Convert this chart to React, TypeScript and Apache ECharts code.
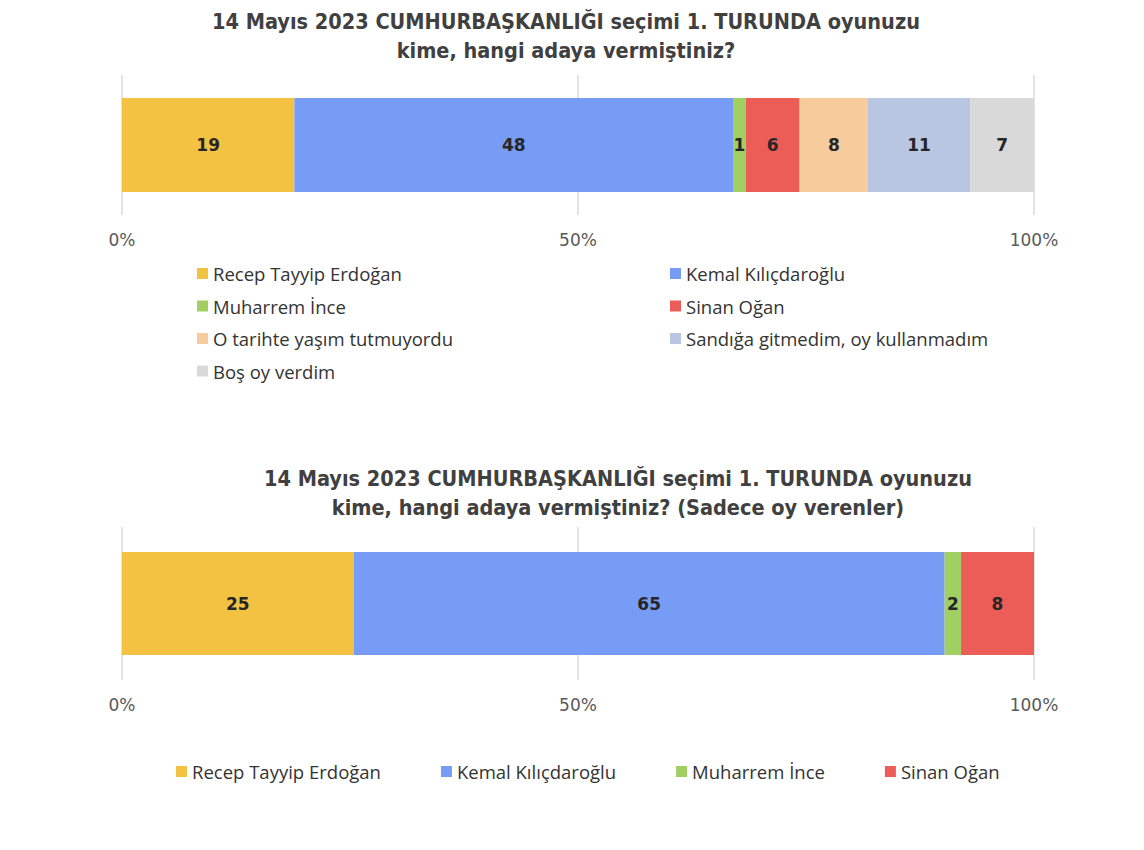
import React, { useEffect, useRef } from "react";
import * as echarts from "echarts";

const title1 = "14 Mayıs 2023 CUMHURBAŞKANLIĞI seçimi 1. TURUNDA oyunuzu\nkime, hangi adaya vermiştiniz?";
const title2 = "14 Mayıs 2023 CUMHURBAŞKANLIĞI seçimi 1. TURUNDA oyunuzu\nkime, hangi adaya vermiştiniz? (Sadece oy verenler)";

const names1 = [
  "Recep Tayyip Erdoğan",
  "Kemal Kılıçdaroğlu",
  "Muharrem İnce",
  "Sinan Oğan",
  "O tarihte yaşım tutmuyordu",
  "Sandığa gitmedim, oy kullanmadım",
  "Boş oy verdim",
];
const values1 = [18.9, 48.1, 1.4, 5.9, 7.5, 11.2, 7.0];

const names2 = ["Recep Tayyip Erdoğan", "Kemal Kılıçdaroğlu", "Muharrem İnce", "Sinan Oğan"];
const values2 = [25.4, 64.8, 1.8, 8.0];

const colors = ["#F4C242", "#779CF6", "#A1CF62", "#EC5D58", "#F6CC9D", "#B8C6E2", "#D9D9D9"];

const tickLabels = ["0%", "50%", "100%"];

export default function App() {
  const ref = useRef<HTMLDivElement>(null);
  useEffect(() => {
    const chart = echarts.init(ref.current!, undefined, { renderer: "svg" });
    const label = {
      show: true,
      position: "inside",
      formatter: (p: any) => String(Math.round(p.value)),
      color: "#262626",
      fontFamily: "DejaVu Sans",
      fontWeight: "bold",
      fontSize: 17,
    };
    const series: any[] = [];
    names1.forEach((n, i) => {
      series.push({
        type: "bar",
        name: n,
        stack: "a",
        xAxisIndex: 0,
        yAxisIndex: 0,
        data: [values1[i]],
        barWidth: 94,
        itemStyle: { color: colors[i] },
        label,
      });
    });
    names2.forEach((n, i) => {
      series.push({
        type: "bar",
        name: n,
        stack: "b",
        xAxisIndex: 1,
        yAxisIndex: 1,
        data: [values2[i]],
        barWidth: 103,
        itemStyle: { color: colors[i] },
        label,
      });
    });
    const xAxisBase = (gridIndex: number) => ({
      type: "value",
      gridIndex,
      min: 0,
      max: 100,
      interval: 50,
      axisLine: { show: false },
      axisTick: { show: false },
      splitLine: { show: true, lineStyle: { color: "#D9D9D9", width: 1.5 } },
      axisLabel: {
        formatter: (v: number) => tickLabels[v / 50],
        color: "#595959",
        fontSize: 17,
        fontFamily: "DejaVu Sans",
        margin: 16,
      },
    });
    const yAxisBase = (gridIndex: number) => ({
      type: "category",
      gridIndex,
      data: [""],
      axisLine: { show: false },
      axisTick: { show: false },
      axisLabel: { show: false },
    });
    const legendText = { color: "#333333", fontSize: 18.5, fontFamily: "Open Sans" };
    const titleStyle = {
      fontFamily: "Liberation Sans Narrow, DejaVu Sans Condensed",
      fontWeight: "bold",
      fontSize: 21.5,
      color: "#404040",
      lineHeight: 29,
    };
    chart.setOption({
      animation: false,
      backgroundColor: "#ffffff",
      title: [
        { text: title1, left: 561, top: 2, textAlign: "center", textStyle: titleStyle },
        { text: title2, left: 613, top: 459, textAlign: "center", textStyle: titleStyle },
      ],
      legend: [
        {
          data: [names1[0], names1[2], names1[4], names1[6]],
          orient: "vertical",
          left: 192,
          top: 259,
          itemWidth: 11,
          itemHeight: 11,
          itemGap: 13.5,
          icon: "rect",
          textStyle: legendText,
        },
        {
          data: [names1[1], names1[3], names1[5]],
          orient: "vertical",
          left: 665,
          top: 259,
          itemWidth: 11,
          itemHeight: 11,
          itemGap: 13.5,
          icon: "rect",
          textStyle: legendText,
        },
        {
          data: names2,
          orient: "horizontal",
          left: 171,
          top: 757,
          itemWidth: 11,
          itemHeight: 11,
          itemGap: 60,
          icon: "rect",
          textStyle: legendText,
        },
      ],
      grid: [
        { left: 122, right: 110, top: 75, height: 140 },
        { left: 122, right: 110, top: 527, height: 153 },
      ],
      xAxis: [xAxisBase(0), xAxisBase(1)],
      yAxis: [yAxisBase(0), yAxisBase(1)],
      series,
    });
    return () => chart.dispose();
  }, []);
  return (
    <div
      ref={ref}
      style={{ position: "fixed", left: 0, top: 0, width: 1144, height: 850 }}
    />
  );
}
